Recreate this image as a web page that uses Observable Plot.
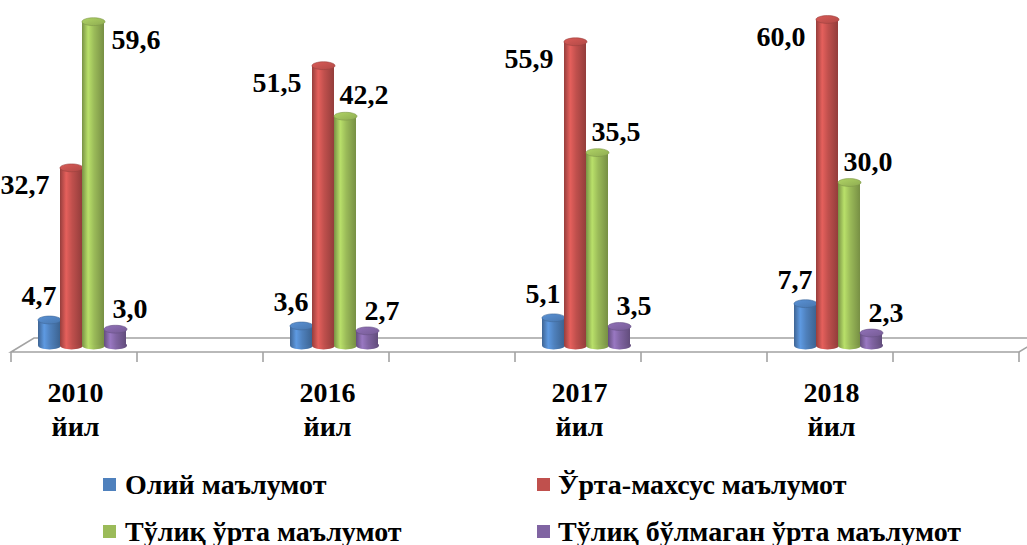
<!DOCTYPE html>
<html><head><meta charset="utf-8">
<script src="https://cdn.jsdelivr.net/npm/d3@7"></script>
<script src="https://cdn.jsdelivr.net/npm/@observablehq/plot@0.6"></script>
<style>
body{margin:0;background:#fff;overflow:hidden;font-family:"Liberation Serif","Times New Roman",serif;}
#legend{position:relative;width:1027px;height:105px;}
.sw{position:absolute;width:13px;height:13px;}
.lt{position:absolute;font-size:28px;line-height:28px;font-weight:bold;white-space:nowrap;color:#000;}
</style></head><body>
<svg width="0" height="0" style="position:absolute"><defs id="defs"></defs></svg>
<div id="chart"></div><div id="legend"></div>
<script>
// ---- data ----
const categories = ["2010 йил", "2016 йил", "2017 йил", "2018 йил"];
const seriesNames = ["Олий маълумот", "Ўрта-махсус маълумот", "Тўлиқ ўрта маълумот", "Тўлиқ бўлмаган ўрта маълумот"];
const oliy = [4.7, 3.6, 5.1, 7.7];
const urtaMaxsus = [32.7, 51.5, 55.9, 60.0];
const tuliqUrta = [59.6, 42.2, 35.5, 30.0];
const tuliqBulmagan = [3.0, 2.7, 3.5, 2.3];
const seriesValues = [oliy, urtaMaxsus, tuliqUrta, tuliqBulmagan];
const colors = ["#4f81bd", "#c0504d", "#9bbb59", "#8064a2"];

const rows = categories.flatMap((cat, i) => seriesValues.map((vals, s) => ({cat, series: seriesNames[s], s, value: vals[i]})));
const fmt = v => d3.format(".1f")(v).replace(".", ",");

// gradients for cylinder shading
const defs = d3.select("#defs");
colors.forEach((c, s) => {
  const base = d3.color(c);
  const g = defs.append("linearGradient").attr("id", "g" + s).attr("x1", 0).attr("x2", 1).attr("y1", 0).attr("y2", 0);
  [[0, base.darker(0.7)], [0.28, base.brighter(0.5)], [0.55, base], [1, base.darker(0.75)]]
    .forEach(([o, col]) => g.append("stop").attr("offset", o).attr("stop-color", col.formatHex()));
  const gc = defs.append("linearGradient").attr("id", "c" + s).attr("x1", 0).attr("x2", 1).attr("y1", 0).attr("y2", 1);
  [[0, base.brighter(0.35)], [1, base.darker(0.25)]]
    .forEach(([o, col]) => gc.append("stop").attr("offset", o).attr("stop-color", col.formatHex()));
});

// ellipse symbol for cylinder ends
const ellipse = {draw(ctx, size) {
  const rx = Math.sqrt(size / Math.PI), ry = rx * 0.34, k = 0.5523;
  ctx.moveTo(rx, 0);
  ctx.bezierCurveTo(rx, ry * k, rx * k, ry, 0, ry);
  ctx.bezierCurveTo(-rx * k, ry, -rx, ry * k, -rx, 0);
  ctx.bezierCurveTo(-rx, -ry * k, -rx * k, -ry, 0, -ry);
  ctx.bezierCurveTo(rx * k, -ry, rx, -ry * k, rx, 0);
  ctx.closePath();
}};

const R = 11.5;
const bySeries = s => rows.filter(d => d.s === s);
const marks = [];
seriesNames.forEach((n, s) => {
  marks.push(Plot.dot(bySeries(s), {fx: "cat", x: "series", y: () => 0, r: R, symbol: ellipse, fill: `url(#g${s})`, stroke: "none"}));
  marks.push(Plot.barY(bySeries(s), {fx: "cat", x: "series", y: "value", fill: `url(#g${s})`}));
  marks.push(Plot.dot(bySeries(s), {fx: "cat", x: "series", y: "value", r: R, symbol: ellipse, fill: `url(#c${s})`,
    stroke: d3.color(colors[s]).darker(0.6).formatHex(), strokeWidth: 0.6}));
});
const lab = {fx: "cat", x: "series", y: "value", text: d => fmt(d.value), lineAnchor: "bottom", fontSize: 28, fontWeight: "bold", fill: "#000"};
marks.push(Plot.text(bySeries(0), {...lab, textAnchor: "end", dx: 7, dy: -15}));
marks.push(Plot.text(bySeries(1), {...lab, textAnchor: "end", dx: -22, dy: 26}));
// green labels: beside the bar when there is no room above it
marks.push(Plot.text(bySeries(2).filter(d => d.value <= 50), {...lab, textAnchor: "start", dx: -6, dy: -12}));
marks.push(Plot.text(bySeries(2).filter(d => d.value > 50), {...lab, textAnchor: "start", dx: 18, dy: 27}));
marks.push(Plot.text(bySeries(3), {...lab, textAnchor: "start", dx: -3, dy: -11}));
marks.push(Plot.axisFx({anchor: "bottom", tickSize: 0, tickPadding: 26, dx: -62, fontSize: 28, fontWeight: "bold",
  lineHeight: 1.2, tickFormat: d => d.replace(" ", "\n"), label: null, fill: "#000"}));

const chart = Plot.plot({
  width: 1027, height: 440,
  marginLeft: 11, marginRight: 8, marginTop: 0, marginBottom: 88,
  fx: {domain: categories, padding: 0, label: null},
  x: {domain: seriesNames, paddingInner: 0, paddingOuter: 3.48, align: 0.1625, axis: null},
  y: {domain: [0, 60], range: [345, 19], axis: null},
  style: {fontFamily: '"Liberation Serif","Times New Roman",serif', background: "white", color: "#000", overflow: "visible"},
  marks
});
document.getElementById("chart").appendChild(chart);

// 3D floor under the bars, from the plot's scales
const fxs = chart.scale("fx"), ys = chart.scale("y");
const xa = fxs.apply(categories[0]), xb = fxs.apply(categories[categories.length - 1]) + fxs.bandwidth;
const y0 = ys.apply(0), front = y0 + 7, back = y0 - 7, depth = 23;
const floor = d3.select(chart).insert("g", ":first-child").attr("fill", "none").attr("stroke", "#a3a3a3").attr("stroke-width", 1.6);
floor.append("path").attr("fill", "#fff")
  .attr("d", `M${xa},${front}L${xb},${front}L${xb + depth},${back}L${xa + depth},${back}Z`);
const tickXs = [];
categories.forEach(c => { tickXs.push(fxs.apply(c)); tickXs.push(fxs.apply(c) + fxs.bandwidth / 2); });
tickXs.push(xb);
tickXs.forEach(x => floor.append("line").attr("x1", x).attr("x2", x).attr("y1", front).attr("y2", front + 10));

// legend
const leg = d3.select("#legend");
const pos = [[103, 125, 38, 30.5], [537, 558, 38, 30.5], [103, 125, 85, 77.5], [537, 558, 85, 77.5]];
seriesNames.forEach((n, s) => {
  const [sx, tx, sy, ty] = pos[s];
  leg.append("div").attr("class", "sw").style("left", sx + "px").style("top", sy + "px").style("background", colors[s]);
  leg.append("div").attr("class", "lt").style("left", tx + "px").style("top", ty + "px").text(n);
});
</script>
</body></html>
